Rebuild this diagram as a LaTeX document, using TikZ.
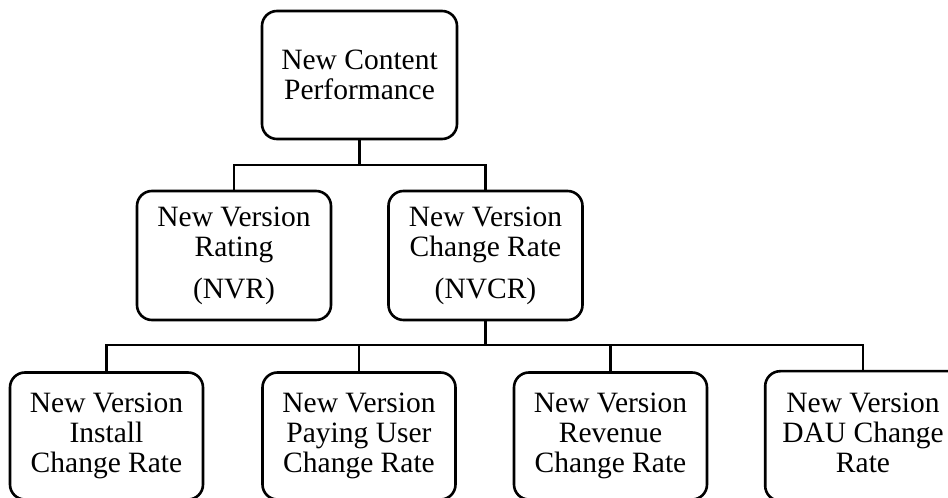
\documentclass[tikz,border=0pt]{standalone}
\usepackage{fontspec}
\setmainfont{Liberation Serif}
\begin{document}
\begin{tikzpicture}[x=1pt,y=1pt,
  boxline/.style={draw, line width=2.6pt, rounded corners=15pt},
  box/.style={boxline, align=center,
    font=\fontsize{29.5}{30}\selectfont, inner sep=0pt},
  top/.style={box, minimum width=195pt, minimum height=128pt},
  mid/.style={box, minimum width=194pt, minimum height=129pt},
  low/.style={box, minimum width=193pt, minimum height=127pt},
  conn/.style={line width=2.6pt}]
\useasboundingbox (0,0) rectangle (948,498);
\clip (0,0) rectangle (948,498);
\node[top] (root) at (359.5,423) {New Content\\Performance};
\node[mid] (nvr) at (234,242.5) {New Version\\Rating\\[12pt](NVR)};
\node[mid] (nvcr) at (485.5,242.5) {New Version\\Change Rate\\[12pt](NVCR)};
\node[low] (la) at (106.5,62) {New Version\\Install\\Change Rate};
\node[low] (lb) at (359,62) {New Version\\Paying User\\Change Rate};
\node[low] (lc) at (610.5,62) {New Version\\Revenue\\Change Rate};
\node[low, draw=none] (ld) at (863,62) {New Version\\DAU Change\\Rate\vphantom{g}};
\draw[boxline] (ld.south west) rectangle ([xshift=60pt]ld.north east);
\coordinate (bus1) at (359.5,333);
\coordinate (bus2) at (485.5,153);
\draw[conn] (root.south) -- (bus1);
\draw[conn] (nvr.north) |- (bus1) -| (nvcr.north);
\draw[conn] (nvcr.south) -- (bus2);
\draw[conn] (la.north) |- (bus2) -| (ld.north);
\draw[conn] (lb.north) -- (lb.north |- bus2);
\draw[conn] (lc.north) -- (lc.north |- bus2);
\end{tikzpicture}
\end{document}
